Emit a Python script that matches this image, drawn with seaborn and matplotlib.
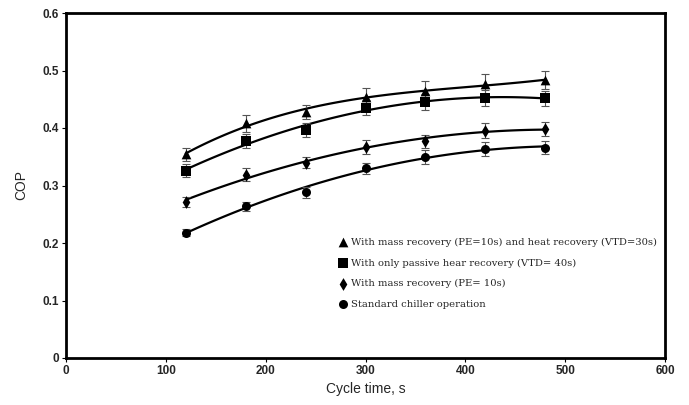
import numpy as np
import pandas as pd
import matplotlib
matplotlib.use("Agg")
import matplotlib.pyplot as plt
import seaborn as sns

cycle_time = [120, 180, 240, 300, 360, 420, 480]
cop_mass_heat = [0.354, 0.408, 0.428, 0.454, 0.464, 0.476, 0.483]
cop_passive_heat = [0.326, 0.377, 0.397, 0.435, 0.446, 0.452, 0.452]
cop_mass = [0.271, 0.319, 0.340, 0.367, 0.377, 0.395, 0.398]
cop_standard = [0.218, 0.264, 0.288, 0.330, 0.350, 0.363, 0.366]
err_mass_heat = [0.012, 0.015, 0.012, 0.015, 0.017, 0.018, 0.016]
err_passive_heat = [0.011, 0.012, 0.012, 0.013, 0.014, 0.014, 0.013]
err_mass = [0.009, 0.011, 0.010, 0.013, 0.011, 0.013, 0.012]
err_standard = [0.006, 0.008, 0.009, 0.010, 0.012, 0.012, 0.012]

labels = [
    "With mass recovery (PE=10s) and heat recovery (VTD=30s)",
    "With only passive hear recovery (VTD= 40s)",
    "With mass recovery (PE= 10s)",
    "Standard chiller operation",
]
series = [cop_mass_heat, cop_passive_heat, cop_mass, cop_standard]
errors = [err_mass_heat, err_passive_heat, err_mass, err_standard]
markers = ["^", "s", "d", "o"]
msizes = [7, 6.5, 6.5, 6.5]
fit_order = [3, 2, 2, 2]

rows = []
for lab, vals, errs in zip(labels, series, errors):
    for x, v, e in zip(cycle_time, vals, errs):
        rows.append({"series": lab, "t": x, "cop": v, "err": e})
df = pd.DataFrame(rows)

sns.set_theme(style="white")
plt.rcParams["font.family"] = ["Liberation Sans", "DejaVu Sans"]

fig = plt.figure(figsize=(6.89, 4.05), dpi=100)
ax = fig.add_axes([66/689, 1 - 358/405, 599/689, 345/405])

handles = []
for lab, m, ms, order in zip(labels, markers, msizes, fit_order):
    d = df[df["series"] == lab]
    sns.regplot(data=d, x="t", y="cop", order=order, ci=None, scatter=False, ax=ax,
                line_kws={"color": "black", "lw": 1.6})
    ax.errorbar(d["t"], d["cop"], yerr=d["err"], fmt="none", ecolor="#555555",
                elinewidth=0.8, capsize=3, capthick=0.8, zorder=3)
    h = ax.scatter(d["t"], d["cop"], marker=m, s=ms**2, color="black", zorder=4,
                   linewidths=0, label=lab)
    handles.append(h)

ax.set_xlim(0, 600)
ax.set_ylim(0, 0.6)
ax.set_xticks([0, 100, 200, 300, 400, 500, 600])
ax.set_yticks([0, 0.1, 0.2, 0.3, 0.4, 0.5, 0.6])
ax.set_xticklabels(["0", "100", "200", "300", "400", "500", "600"])
ax.set_yticklabels(["0", "0.1", "0.2", "0.3", "0.4", "0.5", "0.6"])
for t in ax.get_xticklabels() + ax.get_yticklabels():
    t.set_fontweight("bold")
    t.set_fontsize(8.5)
ax.tick_params(axis="both", direction="out", length=3, width=0.8, color="black", pad=2,
               bottom=True, left=True)
for sp in ax.spines.values():
    sp.set_linewidth(2)
    sp.set_color("black")
ax.set_xlabel("Cycle time, s", fontsize=10, labelpad=4)
ax.set_ylabel("COP", fontsize=10, labelpad=10)

leg = ax.legend(handles=handles, labels=labels, loc="upper left", bbox_to_anchor=(0.447, 0.36),
                frameon=False, prop={"family": "DejaVu Serif", "size": 7.2},
                handletextpad=0.3, labelspacing=1.15, handlelength=1.0, borderaxespad=0)

fig.savefig("out.png", dpi=100)
